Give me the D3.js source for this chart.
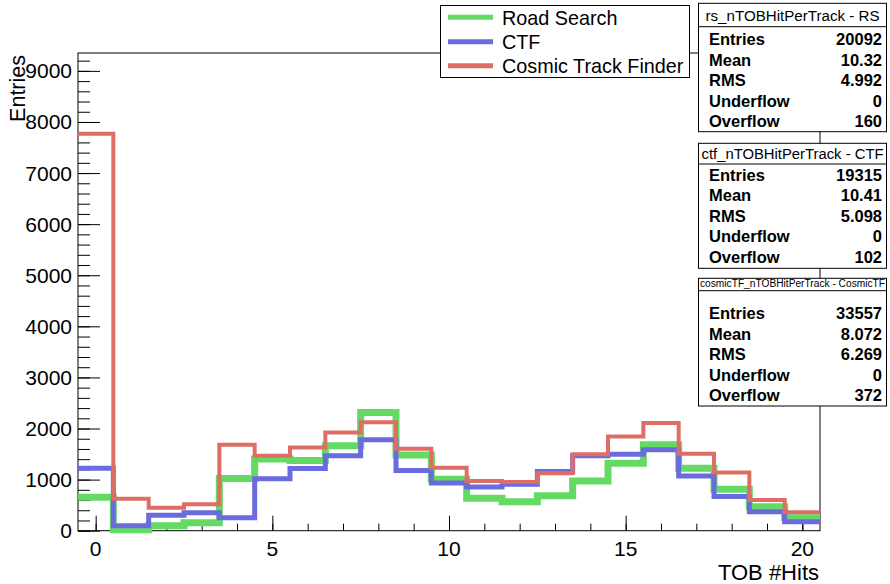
<!DOCTYPE html>
<html><head><meta charset="utf-8">
<script src="https://cdn.jsdelivr.net/npm/d3@7"></script>
<style>
html,body{margin:0;padding:0;background:#fff;}
svg{display:block;font-family:"Liberation Sans",Arial,Helvetica,sans-serif;}
</style></head>
<body><svg id="c" width="890" height="584"></svg>
<script>
// ---- data ----
const binCenters = [0,1,2,3,4,5,6,7,8,9,10,11,12,13,14,15,16,17,18,19,20];
const roadSearch = [655,20,98,157,1020,1405,1373,1661,2314,1484,1008,635,569,686,975,1322,1680,1223,812,471,255];
const ctf        = [1223,98,302,353,255,1018,1216,1465,1778,1176,935,857,910,1157,1465,1498,1582,1073,667,373,176];
const cosmicTF   = [7770,627,451,518,1680,1465,1630,1922,2125,1602,1230,975,955,1125,1498,1843,2106,1504,1137,602,361];
const seriesNames = ["Road Search","CTF","Cosmic Track Finder"];
const xMajorTicks = [0,5,10,15,20];
const yMajorTicks = [0,1000,2000,3000,4000,5000,6000,7000,8000,9000];
const xTitle = "TOB #Hits";
const yTitle = "Entries";
const statTitles = ["rs_nTOBHitPerTrack - RS","ctf_nTOBHitPerTrack - CTF","cosmicTF_nTOBHitPerTrack - CosmicTF"];
const statLabels = ["Entries","Mean","RMS","Underflow","Overflow"];
const statRS     = ["20092","10.32","4.992","0","160"];
const statCTF    = ["19315","10.41","5.098","0","102"];
const statCosmic = ["33557","8.072","6.269","0","372"];

// ---- layout ----
const L=78, R=820, T=53, B=530.7;
const colors = ["#64da64","#6b6be0","#de6e64"];
const widths = [7,5,4];

const svg = d3.select("#c");
const x = d3.scaleLinear().domain([-0.5,20.5]).range([L,R]);
const y = d3.scaleLinear().domain([0,9350]).range([B,T]);

// frame
svg.append("rect").attr("x",L).attr("y",T).attr("width",R-L).attr("height",B-T)
  .attr("fill","none").attr("stroke","#000").attr("stroke-width",1);

// ticks
const xMinor = d3.range(0,21,1);
const yMinor = d3.range(0,9201,200);
const gx = svg.append("g").attr("transform",`translate(0,${B})`);
gx.call(d3.axisBottom(x).tickValues(xMinor).tickSize(-7).tickFormat(""));
gx.append("g").call(d3.axisBottom(x).tickValues(xMajorTicks).tickSize(-15).tickFormat(""));
const gy = svg.append("g").attr("transform",`translate(${L},0)`);
gy.call(d3.axisLeft(y).tickValues(yMinor).tickSize(-12).tickFormat(""));
gy.append("g").call(d3.axisLeft(y).tickValues(yMajorTicks).tickSize(-22).tickFormat(""));
svg.selectAll(".domain").remove();
svg.selectAll(".tick line").attr("stroke","#000").attr("stroke-width",1);

// tick labels
svg.append("g").selectAll("text").data(xMajorTicks).join("text")
  .attr("x",d=>x(d)).attr("y",556).attr("text-anchor","middle")
  .attr("font-size",21).text(d=>d);
svg.append("g").selectAll("text").data(yMajorTicks).join("text")
  .attr("x",72).attr("y",d=>y(d)+7.5).attr("text-anchor","end")
  .attr("font-size",21).text(d=>d);

// axis titles
svg.append("text").attr("x",819).attr("y",580).attr("text-anchor","end")
  .attr("font-size",22).text(xTitle);
svg.append("text").attr("transform","translate(25,55) rotate(-90)")
  .attr("text-anchor","end").attr("font-size",21.5).text(yTitle);

// histograms
const allSeries = [roadSearch, ctf, cosmicTF];
const line = d3.line().x(d=>x(d[0])).y(d=>y(d[1])).curve(d3.curveStepAfter);
allSeries.forEach((vals,i)=>{
  const pts = binCenters.map((c,j)=>[c-0.5, vals[j]]);
  pts.push([binCenters[binCenters.length-1]+0.5, vals[vals.length-1]]);
  svg.append("path").datum(pts).attr("d",line).attr("fill","none")
    .attr("stroke",colors[i]).attr("stroke-width",widths[i])
    .attr("stroke-linejoin","miter").attr("stroke-linecap","butt");
});

// legend
const lg = svg.append("g");
lg.append("rect").attr("x",440.5).attr("y",5.5).attr("width",249).attr("height",72)
  .attr("fill","#fff").attr("stroke","#000");
const legY = [17.3,41.7,65.7];
seriesNames.forEach((n,i)=>{
  lg.append("line").attr("x1",448).attr("x2",493).attr("y1",legY[i]).attr("y2",legY[i])
    .attr("stroke",colors[i]).attr("stroke-width",5);
  lg.append("text").attr("x",502).attr("y",legY[i]+7.5).attr("font-size",19.8).text(n);
});

// stats boxes
const boxes = [
  {top:3.3, sep:26.7, bottom:131.7, tb:20.7, tl:174, tf:14, rows:[45,65.5,86,106.5,127.3], vals:statRS},
  {top:143.3, sep:164, bottom:268.3, tb:159.3, tl:182, tf:14, rows:[180.7,201.2,221.7,242.2,262.7], vals:statCTF},
  {top:278.3, sep:290.7, bottom:406, tb:286.5, tl:185, tf:10, rows:[319.3,339.8,360.3,380.8,401.3], vals:statCosmic}
];
boxes.forEach((b,k)=>{
  const g = svg.append("g");
  g.append("rect").attr("x",698.5).attr("y",b.top).attr("width",188).attr("height",b.bottom-b.top)
    .attr("fill","#fff").attr("stroke","#000");
  g.append("line").attr("x1",698.5).attr("x2",886.5).attr("y1",b.sep).attr("y2",b.sep).attr("stroke","#000");
  g.append("text").attr("x",792.5).attr("y",b.tb).attr("text-anchor","middle")
    .attr("font-size",b.tf).attr("textLength",b.tl).attr("lengthAdjust","spacingAndGlyphs")
    .text(statTitles[k]);
  statLabels.forEach((lab,i)=>{
    g.append("text").attr("x",709).attr("y",b.rows[i]).attr("font-size",16.5)
      .attr("font-weight","bold").text(lab);
    g.append("text").attr("x",882).attr("y",b.rows[i]).attr("font-size",16.5)
      .attr("font-weight","bold").attr("text-anchor","end").text(b.vals[i]);
  });
});
</script></body></html>
